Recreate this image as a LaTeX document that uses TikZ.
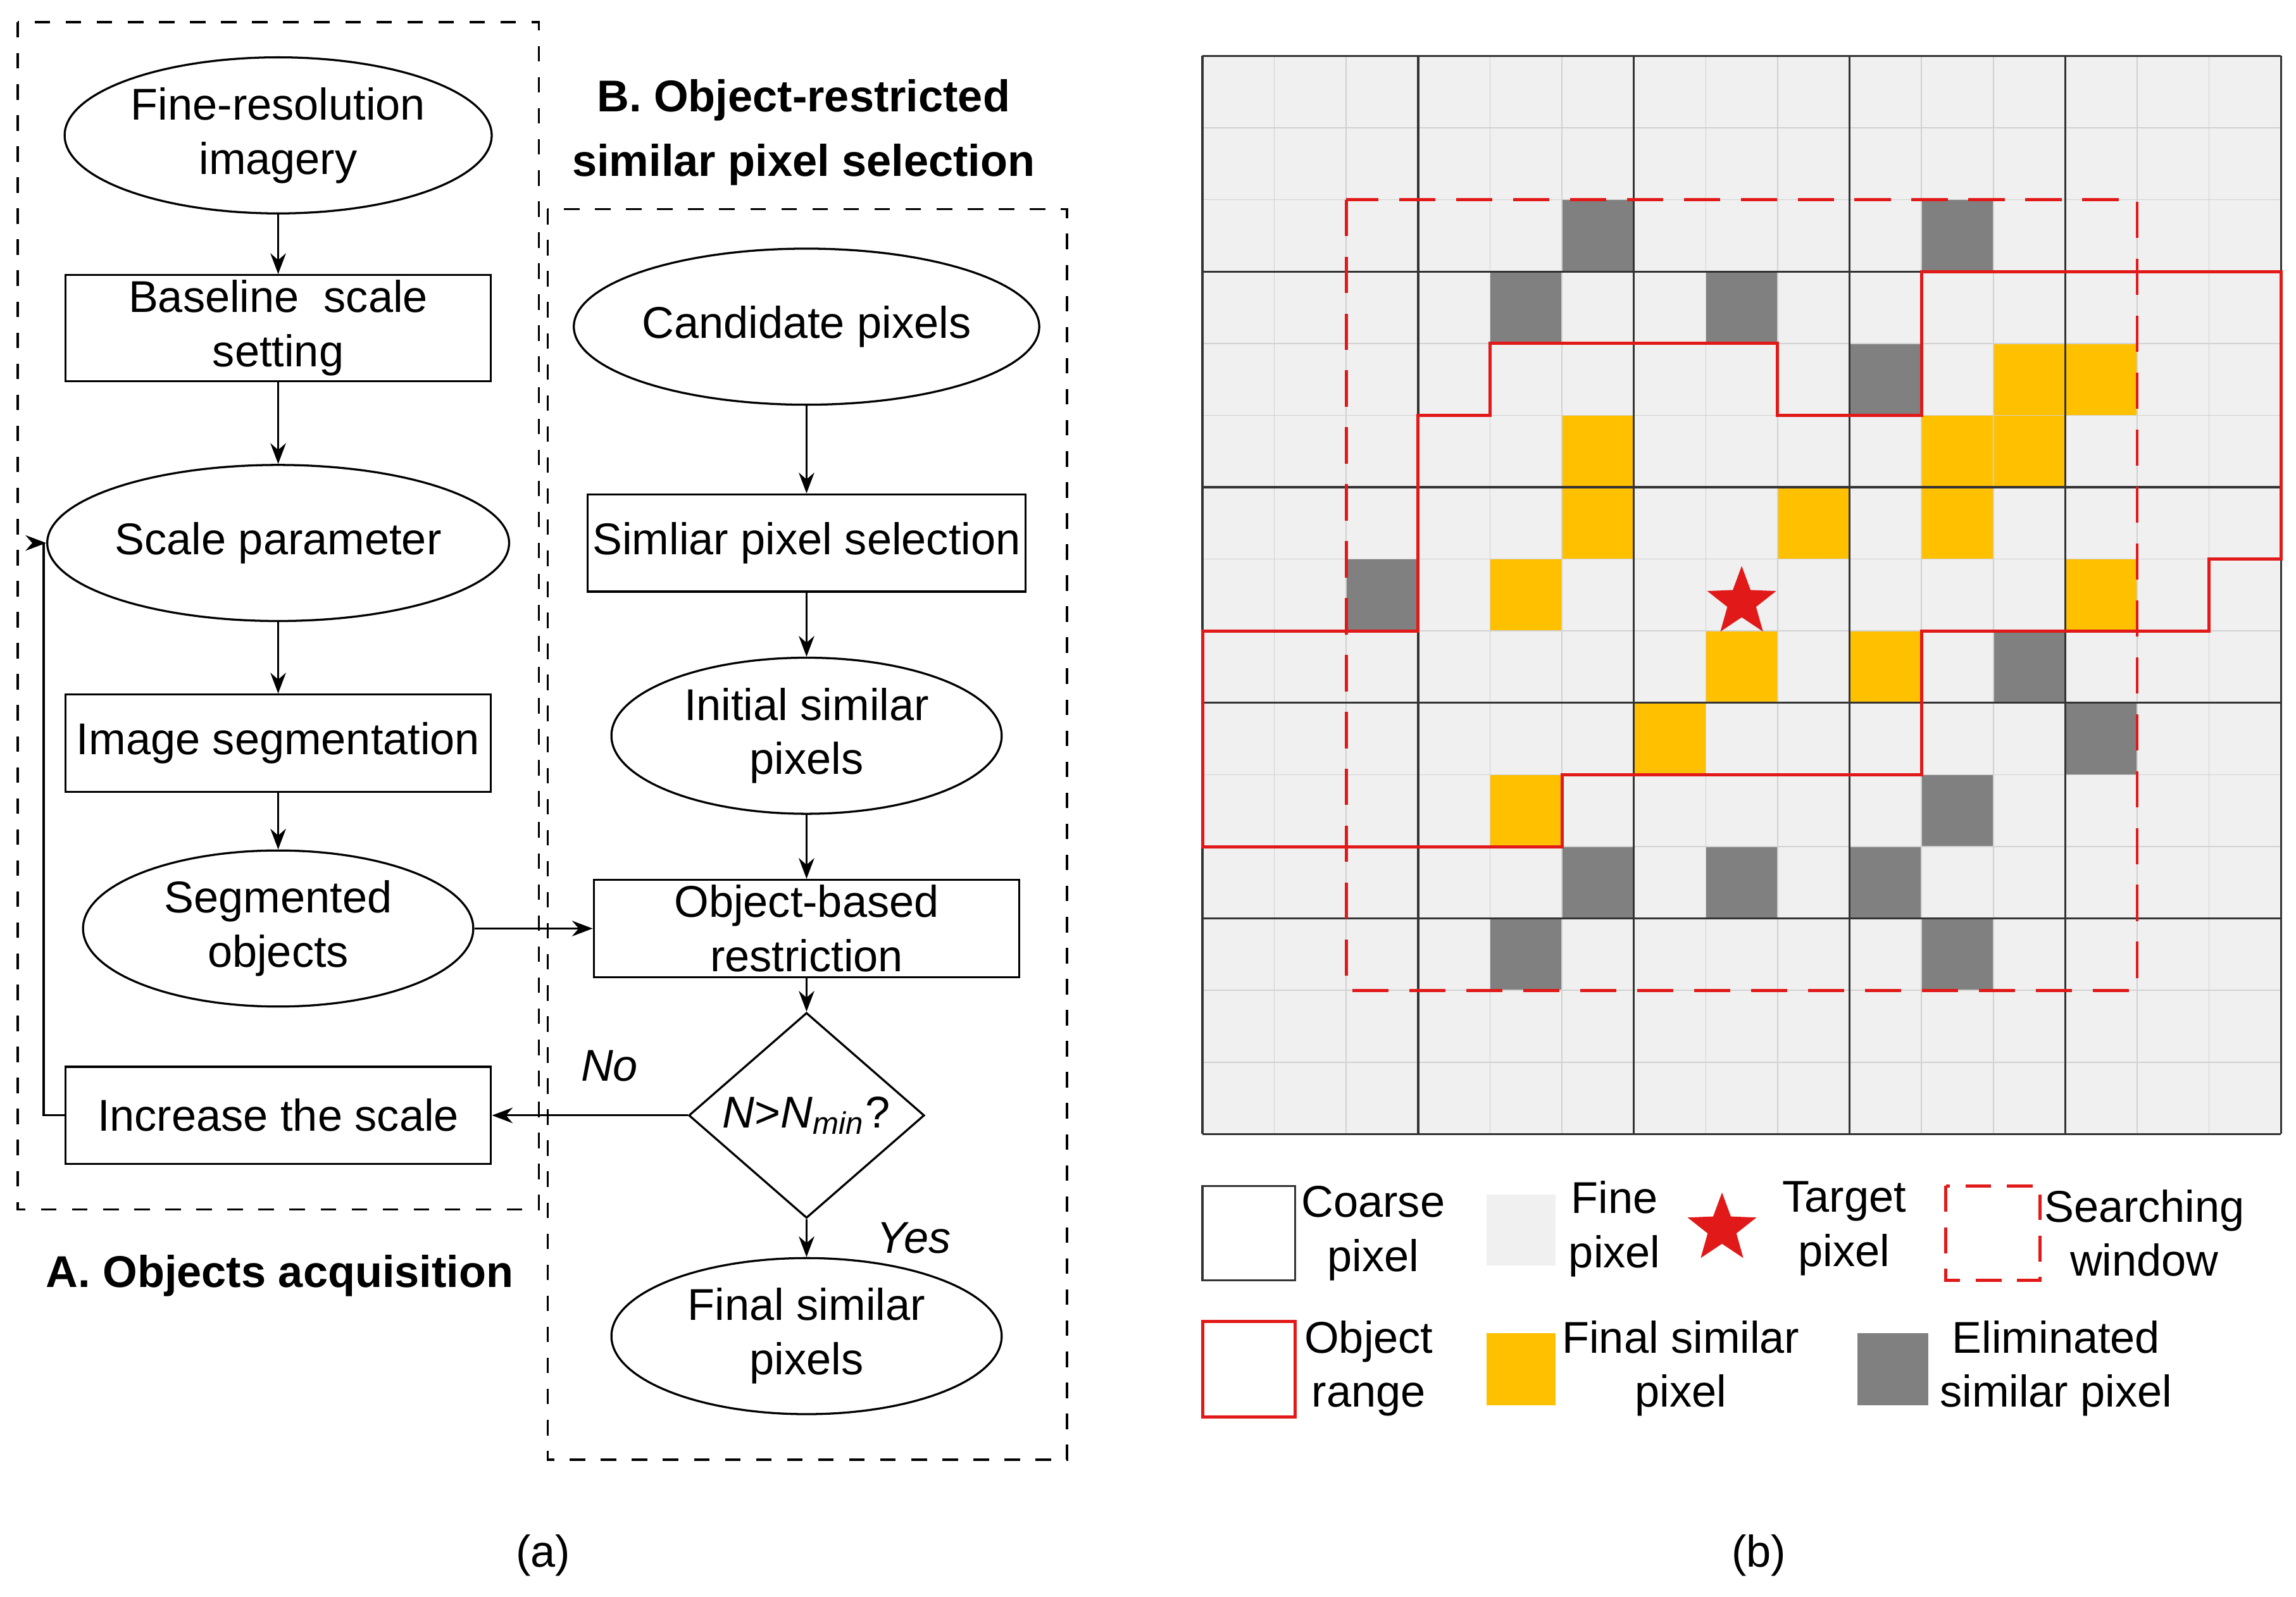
\documentclass[tikz,border=0pt]{standalone}
\usepackage{fontspec}
\setmainfont{Liberation Sans}
\usetikzlibrary{positioning}
\usetikzlibrary{shapes,arrows.meta,shapes.geometric,calc}
\definecolor{finegray}{RGB}{240,240,240}
\definecolor{simyellow}{RGB}{255,192,0}
\definecolor{elimgray}{RGB}{128,128,128}
\definecolor{objred}{RGB}{225,25,25}
\newcommand{\fineside}{48.85}
\newcommand{\gridx}{817}
\newcommand{\gridy}{38}
\newcommand{\flowwidth}{2.89cm}

\begin{document}
\begin{tikzpicture}[x=0.01cm, y=-0.01cm, font=\fontsize{8.6}{10.5}\selectfont, >={Stealth[length=4pt,width=3pt]}]
\tikzstyle{process}=[
    draw,
    rectangle,
    minimum height=0.66cm,
    minimum width=\flowwidth,
    align=center,
    inner sep=1pt]
\tikzstyle{term}=[
    draw,
    ellipse,
    minimum height=1.06cm,
    minimum width=2.65cm,
    align=center,
    inner sep=0pt]
\tikzstyle{frame}=[draw, dashed, thin]
\tikzstyle{flow}=[->, thin]
\tikzstyle{legendtext}=[align=center, inner sep=0pt]
\useasboundingbox (0,0) rectangle (1560,1085);

% left flowchart
\draw[frame] (12,15) rectangle (366,822);
\node[term, minimum width=2.9cm] (fine) at (189,92) {Fine-resolution\\imagery};
\node[process] (baseline) at (189,223) {Baseline\ \ scale\\setting};
\node[term] (scale) at (189,369) {Scale parameter};
\node[process] (segm) at (189,505) {Image segmentation};
\node[term] (objects) at (189,631) {Segmented\\objects};
\node[process] (increase) at (189,758) {Increase the scale};
\node[font=\fontsize{8.6}{10.5}\selectfont\bfseries] (titlea) at (190,867) {A. Objects acquisition};

% right flowchart
\draw[frame] (372,142) rectangle (725,992);
\node[font=\fontsize{8.6}{12.5}\selectfont\bfseries, align=center] (titleb) at (546,90) {B. Object-restricted\\similar pixel selection};
\node[term] (cand) at (548,222) {Candidate pixels};
\node[process] (select) at (548,369) {Simliar pixel selection};
\node[term] (initial) at (548,500) {Initial similar\\pixels};
\node[process] (restrict) at (548,631) {Object-based\\restriction};
\node[draw, diamond, minimum width=1.6cm, minimum height=1.2cm, inner sep=0pt] (check) at (548,758) {\textit{N}>\textit{N\textsubscript{min}}?};
\node[term] (final) at (548,908) {Final similar\\pixels};

\draw[flow] (fine) -- (baseline);
\draw[flow] (baseline) -- (scale);
\draw[flow] (scale) -- (segm);
\draw[flow] (segm) -- (objects);
\draw[flow] (increase.west) -- ++(-14,0) |- (scale.west);
\draw[flow] (cand) -- (select);
\draw[flow] (select) -- (initial);
\draw[flow] (initial) -- (restrict);
\draw[flow] (restrict) -- (check);
\draw[flow] (objects) -- (restrict);
\draw[flow] (check) -- node[above, pos=0.4, yshift=3pt] {\textit{No}} (increase);
\draw[flow] (check) -- node[right, xshift=10pt] {\textit{Yes}} (final);

% pixel grid
\fill[finegray] (\gridx,\gridy) rectangle ++(15*\fineside,15*\fineside);
\foreach \c/\r in {11/4,12/4,5/5,10/5,11/5,5/6,8/6,10/6,4/7,12/7,7/8,9/8,6/9,4/10}
    \fill[simyellow] (\gridx+\c*\fineside,\gridy+\r*\fineside) rectangle ++(\fineside,\fineside);
\foreach \c/\r in {5/2,10/2,4/3,7/3,9/4,2/7,11/8,12/9,10/10,5/11,7/11,9/11,4/12,10/12}
    \fill[elimgray] (\gridx+\c*\fineside,\gridy+\r*\fineside) rectangle ++(\fineside,\fineside);
\foreach \i in {1,...,14}{
    \draw[black!18, very thin] (\gridx+\i*\fineside,\gridy) -- ++(0,15*\fineside);
    \draw[black!18, very thin] (\gridx,\gridy+\i*\fineside) -- ++(15*\fineside,0);
}
\foreach \i in {0,3,...,15}{
    \draw[black!80, thin] (\gridx+\i*\fineside,\gridy) -- ++(0,15*\fineside);
    \draw[black!80, thin] (\gridx,\gridy+\i*\fineside) -- ++(15*\fineside,0);
}
\begin{scope}[shift={(\gridx,\gridy)}, x=\fineside*0.01cm, y=-\fineside*0.01cm]
\draw[objred, semithick] (0,8) -- (3,8) -- (3,5) -- (4,5) -- (4,4) -- (8,4) -- (8,5) -- (10,5) -- (10,3)
    -- (15,3) -- (15,7) -- (14,7) -- (14,8) -- (10,8) -- (10,10) -- (5,10) -- (5,11) -- (0,11) -- cycle;
\draw[objred, semithick, dash pattern=on 7pt off 4pt] (2,2) rectangle (13,13);
\node[star, star points=5, star point ratio=2.4, fill=objred, minimum size=14pt, inner sep=0pt] (target) at (7.5,7.6) {};
\end{scope}

% legend
\draw[black!80] (817,806) rectangle (880,870);
\node[legendtext] (coarse) at (933,838) {Coarse\\pixel};
\fill[finegray] (1010,812) rectangle (1057,860);
\node[legendtext] (finepx) at (1097,835) {Fine\\pixel};
\node[star, star points=5, star point ratio=2.4, fill=objred, minimum size=14pt, inner sep=0pt] (legstar) at (1170,835) {};
\node[legendtext] (targettxt) at (1253,835) {Target\\pixel};
\draw[objred, semithick, dash pattern=on 5pt off 3pt] (1322,806) rectangle (1386,870);
\node[legendtext] (searchtxt) at (1457,838) {Searching\\window};
\draw[objred, semithick] (817,898) rectangle (880,963);
\node[legendtext] (objtxt) at (930,930) {Object\\range};
\fill[simyellow] (1010,906) rectangle (1057,955);
\node[legendtext] (finaltxt) at (1142,930) {Final similar\\pixel};
\fill[elimgray] (1262,906) rectangle (1310,955);
\node[legendtext] (elimtxt) at (1397,930) {Eliminated\\similar pixel};

\node (capa) at (369,1057) {(a)};
\node (capb) at (1195,1057) {(b)};
\end{tikzpicture}
\end{document}
